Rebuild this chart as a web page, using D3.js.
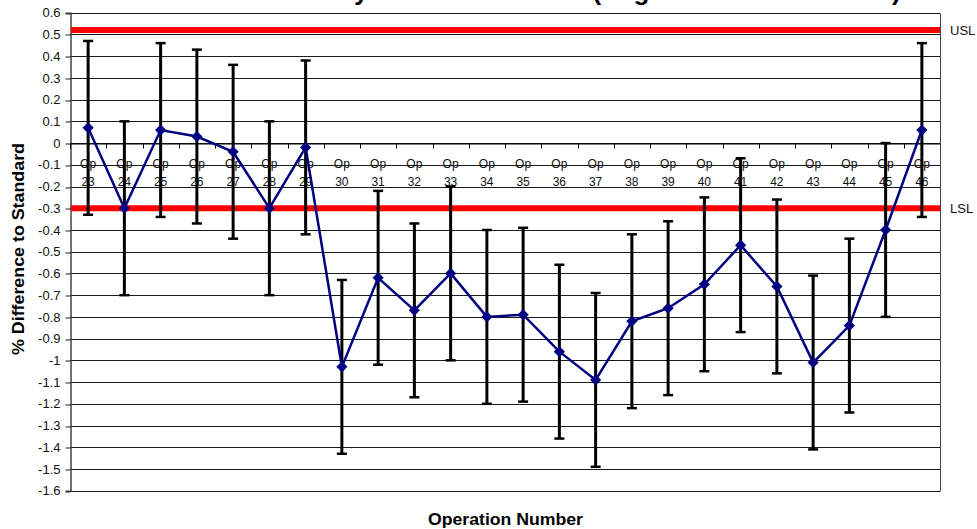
<!DOCTYPE html>
<html>

<head>
    <meta charset="utf-8">
    <style>
        body { margin: 0; background: #fff; }
        text { font-family: "Liberation Sans", Arial, sans-serif; }
    </style>
</head>

<body>
    <div id="vizDiv"></div>

    <script src="https://d3js.org/d3.v7.min.js"></script>
    <script>
        // chart values
        const ops = ["23", "24", "25", "26", "27", "28", "29", "30", "31", "32", "33", "34",
            "35", "36", "37", "38", "39", "40", "41", "42", "43", "44", "45", "46"];
        const means = [0.07, -0.30, 0.06, 0.03, -0.04, -0.30, -0.02, -1.03, -0.62, -0.77, -0.60, -0.80,
            -0.79, -0.96, -1.09, -0.82, -0.76, -0.65, -0.47, -0.66, -1.01, -0.84, -0.40, 0.06];
        const upper = [0.47, 0.10, 0.46, 0.43, 0.36, 0.10, 0.38, -0.63, -0.22, -0.37, -0.20, -0.40,
            -0.39, -0.56, -0.69, -0.42, -0.36, -0.25, -0.07, -0.26, -0.61, -0.44, 0.00, 0.46];
        const lower = [-0.33, -0.70, -0.34, -0.37, -0.44, -0.70, -0.42, -1.43, -1.02, -1.17, -1.00, -1.20,
            -1.19, -1.36, -1.49, -1.22, -1.16, -1.05, -0.87, -1.06, -1.41, -1.24, -0.80, -0.34];
        const yTickValues = [0.6, 0.5, 0.4, 0.3, 0.2, 0.1, 0, -0.1, -0.2, -0.3, -0.4, -0.5, -0.6, -0.7,
            -0.8, -0.9, -1, -1.1, -1.2, -1.3, -1.4, -1.5, -1.6];
        const limits = [{ name: "USL", value: 0.52 }, { name: "LSL", value: -0.3 }];

        const width = 977, height = 529;
        const plotLeft = 70, plotRight = 940, plotTop = 12.7, plotBottom = 490.7;

        const svg = d3.select("#vizDiv")
            .append("svg")
            .attr("width", width)
            .attr("height", height)
            .style("display", "block");

        const x = d3.scaleBand().domain(ops).range([plotLeft, plotRight]).padding(0);
        const y = d3.scaleLinear().domain([-1.6, 0.6]).range([plotBottom, plotTop]);
        const cx = d => x(d) + x.bandwidth() / 2;
        const snap = v => Math.round(v) + 0.5;

        // title sits above the frame, only its descenders show
        svg.append("text")
            .attr("x", 186)
            .attr("y", -0.5)
            .style("font-size", "26px")
            .style("font-weight", "bold")
            .text("Bore Accuracy Results on Cell 4 (Avg of 5 Measurements)");

        // horizontal gridlines
        svg.append("g")
            .selectAll("line")
            .data(yTickValues)
            .enter()
            .append("line")
            .attr("x1", plotLeft)
            .attr("x2", plotRight)
            .attr("y1", d => snap(y(d)))
            .attr("y2", d => snap(y(d)))
            .style("stroke", "#1a1a1a")
            .style("stroke-width", 1);

        // right border
        svg.append("line")
            .attr("x1", snap(plotRight)).attr("x2", snap(plotRight))
            .attr("y1", snap(y(0.6))).attr("y2", snap(y(-1.6)))
            .style("stroke", "#444");

        // y axis
        const yAxis = d3.axisLeft(y)
            .tickValues(yTickValues)
            .tickSize(5)
            .tickPadding(5)
            .tickFormat(d => String(+d.toFixed(1)));

        const yG = svg.append("g")
            .attr("transform", `translate(${plotLeft + 0.5},0)`)
            .call(yAxis);
        yG.select(".domain").style("stroke", "#444").style("stroke-width", 1.5);
        yG.selectAll(".tick line").style("stroke", "#222")
            .attr("transform", d => `translate(0,${snap(y(d)) - y(d)})`);
        yG.selectAll("text")
            .style("font-size", "13px")
            .style("font-family", "'Liberation Sans', Arial, sans-serif")
            .style("fill", "#111");

        // category axis crossing at zero
        const y0 = snap(y(0));
        const xAxis = d3.axisBottom(x).tickSize(0).tickFormat("");
        const xG = svg.append("g")
            .attr("transform", `translate(0,${y0})`)
            .call(xAxis);
        xG.select(".domain").style("stroke", "#000");

        // boundary tick marks
        svg.append("g")
            .selectAll("line")
            .data(ops)
            .enter()
            .append("line")
            .attr("x1", d => snap(x(d)))
            .attr("x2", d => snap(x(d)))
            .attr("y1", y0)
            .attr("y2", y0 + 5)
            .style("stroke", "#000");

        // two-line category labels
        const labels = svg.append("g")
            .selectAll("text")
            .data(ops)
            .enter()
            .append("text")
            .attr("text-anchor", "middle")
            .style("font-size", "12px")
            .style("fill", "#111");
        labels.append("tspan")
            .attr("x", cx)
            .attr("y", y0 + 24)
            .text("Op");
        labels.append("tspan")
            .attr("x", cx)
            .attr("y", y0 + 42)
            .text(d => d);

        // spec limit lines
        svg.append("g")
            .selectAll("line")
            .data(limits)
            .enter()
            .append("line")
            .attr("x1", plotLeft + 1)
            .attr("x2", plotRight)
            .attr("y1", d => y(d.value))
            .attr("y2", d => y(d.value))
            .style("stroke", "#ff0000")
            .style("stroke-width", 6);

        svg.append("g")
            .selectAll("text")
            .data(limits)
            .enter()
            .append("text")
            .attr("x", 950)
            .attr("y", d => y(d.value) + 4.5)
            .style("font-size", "13px")
            .style("fill", "#111")
            .text(d => d.name);

        // error bars
        const bars = svg.append("g")
            .selectAll("g")
            .data(ops)
            .enter()
            .append("g");
        bars.append("line")
            .attr("x1", cx)
            .attr("x2", cx)
            .attr("y1", (d, i) => y(upper[i]))
            .attr("y2", (d, i) => y(lower[i]))
            .style("stroke", "#000")
            .style("stroke-width", 3);
        bars.append("line")
            .attr("x1", d => cx(d) - 5)
            .attr("x2", d => cx(d) + 5)
            .attr("y1", (d, i) => y(upper[i]))
            .attr("y2", (d, i) => y(upper[i]))
            .style("stroke", "#000")
            .style("stroke-width", 2.5);
        bars.append("line")
            .attr("x1", d => cx(d) - 5)
            .attr("x2", d => cx(d) + 5)
            .attr("y1", (d, i) => y(lower[i]))
            .attr("y2", (d, i) => y(lower[i]))
            .style("stroke", "#000")
            .style("stroke-width", 2.5);

        // mean line
        const line = d3.line()
            .x((d, i) => cx(ops[i]))
            .y(d => y(d));

        svg.append("path")
            .datum(means)
            .attr("d", line)
            .style("fill", "none")
            .style("stroke", "#000080")
            .style("stroke-width", 2.5);

        svg.append("g")
            .selectAll("path")
            .data(means)
            .enter()
            .append("path")
            .attr("d", d3.symbol().type(d3.symbolDiamond2).size(80))
            .attr("transform", (d, i) => `translate(${cx(ops[i])},${y(d)})`)
            .style("fill", "#000080");

        // axis titles
        svg.append("text")
            .attr("transform", "translate(24,249) rotate(-90)")
            .attr("text-anchor", "middle")
            .attr("textLength", 212)
            .attr("lengthAdjust", "spacingAndGlyphs")
            .style("font-size", "17px")
            .style("font-weight", "bold")
            .text("% Difference to Standard");

        svg.append("text")
            .attr("x", 505.5)
            .attr("y", 525)
            .attr("text-anchor", "middle")
            .attr("textLength", 155)
            .attr("lengthAdjust", "spacingAndGlyphs")
            .style("font-size", "16px")
            .style("font-weight", "bold")
            .text("Operation Number");
    </script>
</body>

</html>
